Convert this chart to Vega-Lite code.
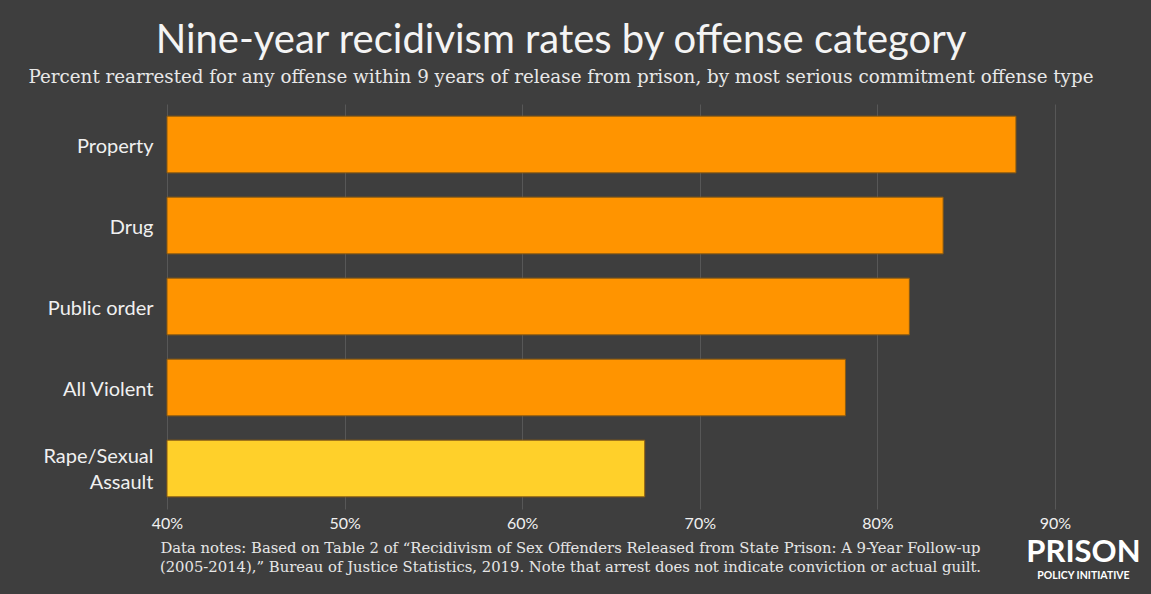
{
  "$schema": "https://vega.github.io/schema/vega-lite/v6.json",
  "autosize": {"type": "none"},
  "width": 888,
  "height": 405,
  "padding": {"left": 167, "top": 104, "right": 96, "bottom": 85},
  "background": "#3e3e3e",
  "config": {"view": {"stroke": null}},
  "title": {
    "text": "Nine-year recidivism rates by offense category",
    "subtitle": "Percent rearrested for any offense within 9 years of release from prison, by most serious commitment offense type",
    "anchor": "middle",
    "frame": "group",
    "dx": -50,
    "offset": 18,
    "font": "Lato",
    "fontSize": 40,
    "fontWeight": "normal",
    "color": "#f4f4f4",
    "subtitleFont": "DejaVu Serif",
    "subtitleFontSize": 18.3,
    "subtitleColor": "#e8e8e8",
    "subtitlePadding": 8
  },
  "datasets": {
    "rates": [
      {"offense": "Property", "rate": 87.8, "group": "other"},
      {"offense": "Drug", "rate": 83.7, "group": "other"},
      {"offense": "Public order", "rate": 81.8, "group": "other"},
      {"offense": "All Violent", "rate": 78.2, "group": "other"},
      {"offense": "Rape/Sexual Assault", "rate": 66.9, "group": "sex"}
    ],
    "logo": [{"big": "PRISON", "small": "POLICY INITIATIVE", "anchor": "Rape/Sexual Assault", "x": 91.6}]
  },
  "layer": [
    {
      "data": {"name": "rates"},
      "mark": {"type": "bar", "stroke": "#8a5a12", "strokeWidth": 1},
      "encoding": {
        "y": {
          "field": "offense",
          "type": "nominal",
          "sort": null,
          "scale": {"domain": ["Property", "Drug", "Public order", "All Violent", "Rape/Sexual Assault"], "paddingInner": 0.3, "paddingOuter": 0.15},
          "axis": {
            "title": null,
            "domain": false,
            "ticks": false,
            "labelPadding": 14,
            "labelFont": "Lato",
            "labelFontSize": 20,
            "labelColor": "#f0f0f0",
            "labelLineHeight": 26,
            "labelOffset": {"condition": {"test": "datum.value == 'Rape/Sexual Assault'", "value": -12}, "value": 2},
            "labelExpr": "datum.value == 'Rape/Sexual Assault' ? ['Rape/Sexual', 'Assault'] : datum.value"
          }
        },
        "x": {
          "field": "rate",
          "type": "quantitative",
          "scale": {"domain": [40, 90], "nice": false, "zero": false},
          "axis": {
            "values": [40, 50, 60, 70, 80, 90],
            "labelExpr": "datum.value + '%'",
            "labelFlush": false,
            "domain": false,
            "ticks": false,
            "grid": true,
            "gridColor": "#575757",
            "gridWidth": 1,
            "labelPadding": 6,
            "labelFont": "Lato",
            "labelFontSize": 16,
            "labelColor": "#f0f0f0",
            "title": ["Data notes: Based on Table 2 of \u201cRecidivism of Sex Offenders Released from State Prison: A 9-Year Follow-up", "(2005-2014),\u201d Bureau of Justice Statistics, 2019. Note that arrest does not indicate conviction or actual guilt."],
            "titleFont": "DejaVu Serif",
            "titleFontSize": 14.8,
            "titleFontWeight": "normal",
            "titleColor": "#e6e6e6",
            "titleLineHeight": 19,
            "titlePadding": 9,
            "titleX": 403,
            "titleAlign": "center"
          }
        },
        "x2": {"datum": 40},
        "color": {
          "field": "group",
          "type": "nominal",
          "scale": {"domain": ["other", "sex"], "range": ["#ff9400", "#ffd02a"]},
          "legend": null
        }
      }
    },
    {
      "data": {"name": "logo"},
      "mark": {"type": "text", "font": "Lato", "fontWeight": "bold", "fontSize": 31, "color": "#ffffff", "dy": 84, "align": "center", "baseline": "middle"},
      "encoding": {
        "x": {"field": "x", "type": "quantitative"},
        "y": {"field": "anchor", "type": "nominal", "sort": null},
        "text": {"field": "big"}
      }
    },
    {
      "data": {"name": "logo"},
      "mark": {"type": "text", "font": "Lato", "fontWeight": "bold", "fontSize": 10.5, "color": "#ffffff", "dy": 107, "align": "center", "baseline": "middle"},
      "encoding": {
        "x": {"field": "x", "type": "quantitative"},
        "y": {"field": "anchor", "type": "nominal", "sort": null},
        "text": {"field": "small"}
      }
    }
  ]
}
